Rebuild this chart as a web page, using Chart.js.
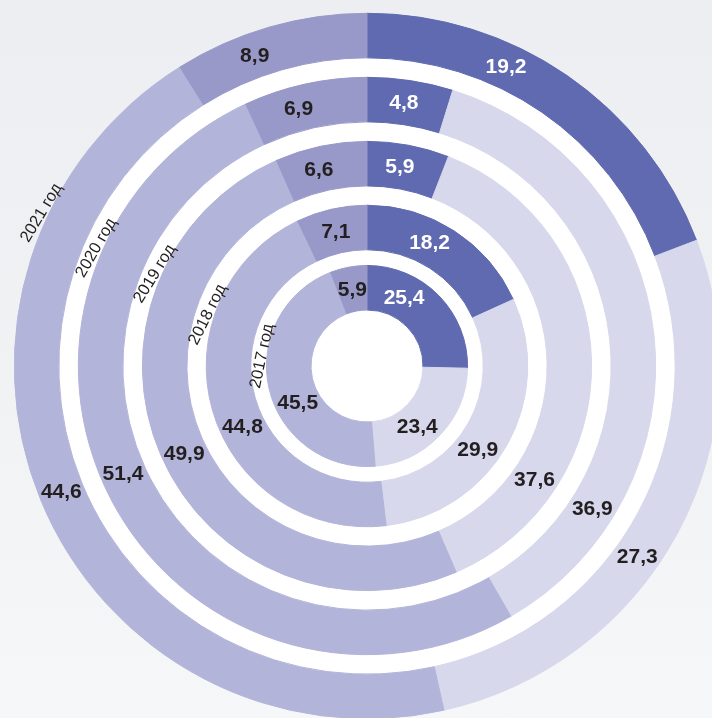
<!DOCTYPE html>
<html>
<head>
<meta charset="utf-8">
<title>Доли по годам</title>
<script src="https://cdn.jsdelivr.net/npm/chart.js@4"></script>
<style>
    html, body {
        margin: 0;
        padding: 0;
        width: 712px;
        height: 718px;
        overflow: hidden;
        background: linear-gradient(180deg, #eceef1 0%, #f1f2f4 55%, #f6f7f8 100%);
    }
    #wrap {
        position: absolute;
        left: 0;
        top: 0;
    }
</style>
</head>
<body>
<div id="wrap"><canvas id="ringsChart" width="734" height="732"></canvas></div>
<script>
// data, outer ring first
var categories = ['Доля 1', 'Доля 2', 'Доля 3', 'Доля 4'];
var years = ['2021 год', '2020 год', '2019 год', '2018 год', '2017 год'];
var share2021 = [19.2, 27.3, 44.6, 8.9];
var share2020 = [4.8, 36.9, 51.4, 6.9];
var share2019 = [5.9, 37.6, 49.9, 6.6];
var share2018 = [18.2, 29.9, 44.8, 7.1];
var share2017 = [25.4, 23.4, 45.5, 5.9];
var shares = [share2021, share2020, share2019, share2018, share2017];

// look
var colors = ['#5f6ab0', '#d7d8eb', '#b3b4d9', '#9899c9'];
var outerR = 352.7, holeR = 56;
var ringWeight = 44.5;
var gapWeights = [19.5, 19.5, 19.3, 15.7];
// where along each arc the value sits (0 = start, 1 = end)
var labelFrac = [
    [0.36, 0.57, 0.50, 0.38],
    [0.46, 0.79, 0.52, 0.40],
    [0.44, 0.76, 0.49, 0.42],
    [0.41, 0.57, 0.44, 0.49],
    [0.31, 0.58, 0.41, 0.49]
];
// year captions: angle from top (deg) and text rotation (deg)
var yearAngle = [-64.8, -66.4, -66.5, -72.1, -84.5];
var yearRotate = [-59, -60, -58.5, -63.5, -78];

var datasets = [];
var ringIndex = [];
shares.forEach(function (vals, i) {
    ringIndex.push(datasets.length);
    datasets.push({
        label: years[i],
        data: vals,
        backgroundColor: colors,
        borderColor: colors,
        borderWidth: 1,
        weight: ringWeight
    });
    if (i < gapWeights.length) {
        datasets.push({
            label: 'gap',
            data: [1],
            backgroundColor: 'rgba(0,0,0,0)',
            borderWidth: 0,
            weight: gapWeights[i]
        });
    }
});

var whiteDisk = {
    id: 'whiteDisk',
    beforeDatasetsDraw: function (chart) {
        var el = chart.getDatasetMeta(0).data[0];
        var ctx = chart.ctx;
        ctx.save();
        ctx.fillStyle = '#ffffff';
        ctx.beginPath();
        ctx.arc(el.x, el.y, el.outerRadius - 1, 0, Math.PI * 2);
        ctx.fill();
        ctx.restore();
    }
};

var ringLabels = {
    id: 'ringLabels',
    afterDatasetsDraw: function (chart) {
        var ctx = chart.ctx;
        ctx.save();
        ctx.textAlign = 'center';
        ctx.textBaseline = 'middle';

        ringIndex.forEach(function (dsIdx, ring) {
            var arcs = chart.getDatasetMeta(dsIdx).data;
            ctx.font = 'bold 21px "Liberation Sans", Arial, sans-serif';
            arcs.forEach(function (arc, j) {
                var a = arc.startAngle + (arc.endAngle - arc.startAngle) * labelFrac[ring][j];
                var r = (arc.innerRadius + arc.outerRadius) / 2;
                ctx.fillStyle = j === 0 ? '#ffffff' : '#231f20';
                var txt = shares[ring][j].toFixed(1).replace('.', ',');
                ctx.fillText(txt, arc.x + r * Math.cos(a), arc.y + r * Math.sin(a) + 1);
            });

            // year caption in the white gap just outside the ring
            var first = arcs[0];
            var rCap;
            if (ring === 0) {
                rCap = first.outerRadius + 8;
            } else {
                var prev = chart.getDatasetMeta(ringIndex[ring - 1]).data[0];
                rCap = (first.outerRadius + prev.innerRadius) / 2 - 2;
            }
            var t = yearAngle[ring] * Math.PI / 180;
            var cx = first.x + rCap * Math.sin(t);
            var cy = first.y - rCap * Math.cos(t);
            ctx.save();
            ctx.translate(cx, cy);
            ctx.rotate(yearRotate[ring] * Math.PI / 180);
            ctx.font = '16.5px "Liberation Sans", Arial, sans-serif';
            ctx.fillStyle = '#231f20';
            ctx.fillText(years[ring], 0, 1);
            ctx.restore();
        });
        ctx.restore();
    }
};

var chart = new Chart(document.getElementById('ringsChart'), {
    type: 'doughnut',
    data: {
        labels: categories,
        datasets: datasets
    },
    options: {
        responsive: false,
        animation: false,
        events: [],
        radius: outerR,
        cutout: (holeR / outerR * 100) + '%',
        hoverOffset: 0,
        hoverBorderWidth: 0,
        layout: { padding: 0 },
        plugins: {
            legend: { display: false },
            tooltip: { enabled: false }
        }
    },
    plugins: [whiteDisk, ringLabels]
});
</script>
</body>
</html>
